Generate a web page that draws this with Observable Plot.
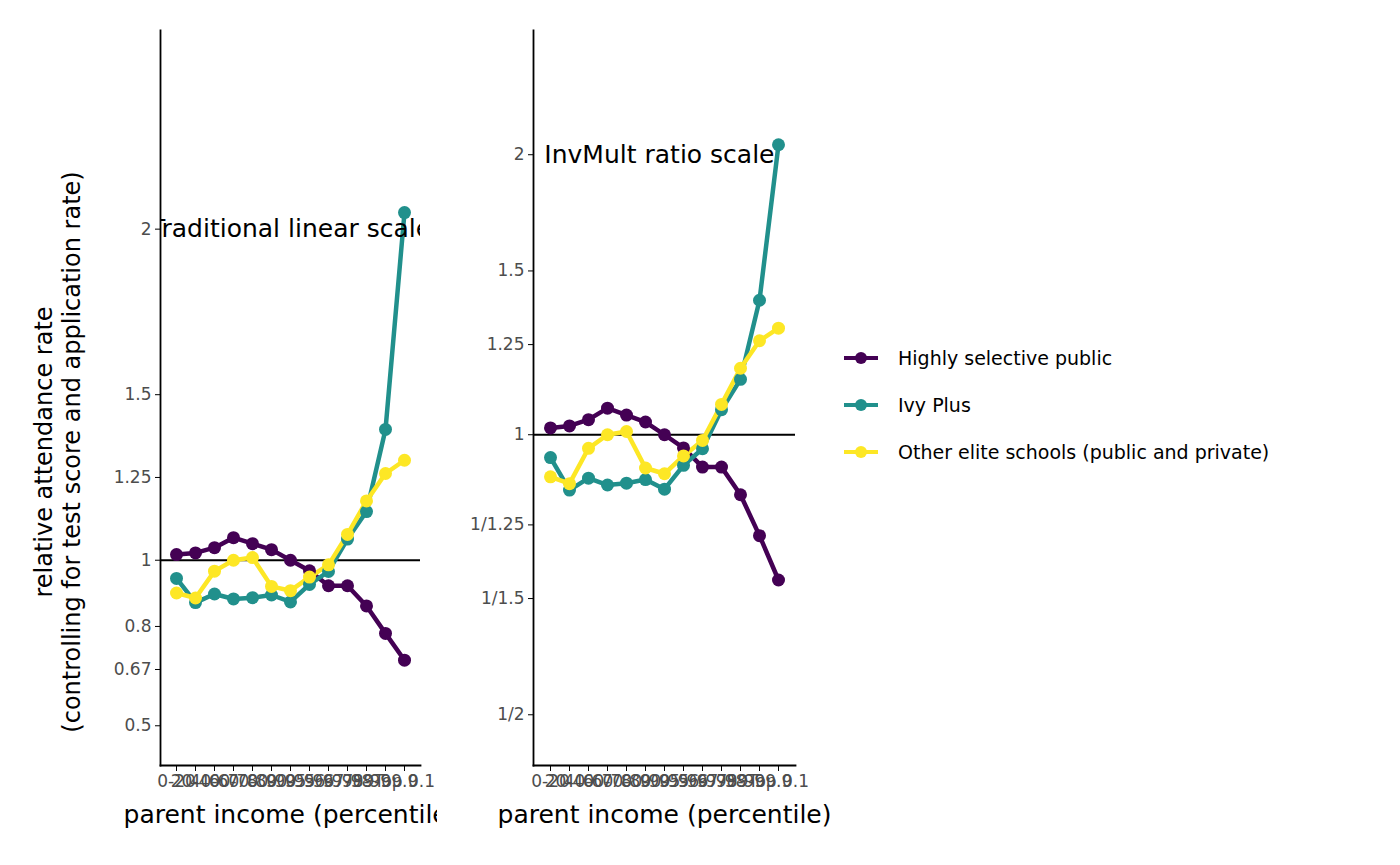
<!DOCTYPE html>
<html><head><meta charset="utf-8">
<script src="https://cdn.jsdelivr.net/npm/d3@7"></script>
<script src="https://cdn.jsdelivr.net/npm/@observablehq/plot@0.6"></script>
<style>
body{margin:0;background:#fff;font-family:"DejaVu Sans",sans-serif;}
#wrap{position:relative;width:1400px;height:865px;overflow:hidden}
.p{position:absolute;top:0}
#left{left:0;width:437px;height:865px;overflow:hidden}
#right{left:461px;width:939px;height:865px;overflow:hidden}
#legend{position:absolute;left:840px;top:334px;font-size:19px;color:#000}
.li{display:flex;align-items:center;height:47px}
</style></head><body>
<div id="wrap"><div id="left" class="p"></div><div id="right" class="p"></div><div id="legend"></div></div>
<script>
const bins = ["0-20","20-40","40-60","60-70","70-80","80-90","90-95","95-96","96-97","97-98","98-99","99-99.9","Top 0.1"];
const seriesNames = ["Highly selective public","Ivy Plus","Other elite schools (public and private)"];
const colors = ["#440154","#21908C","#FDE725"];
const publicVals = [1.017,1.022,1.038,1.068,1.050,1.032,1.0,0.968,0.923,0.923,0.862,0.779,0.698];
const ivyVals = [0.945,0.872,0.898,0.883,0.887,0.895,0.874,0.927,0.966,1.064,1.147,1.395,2.05];
const otherVals = [0.901,0.886,0.967,1.0,1.008,0.921,0.908,0.949,0.986,1.078,1.179,1.262,1.302];
const leftTicks = [0.5,0.67,0.8,1,1.25,1.5,2];
const rightTicks = [0.5,2/3,0.8,1,1.25,1.5,2];
const rightLabels = ["1/2","1/1.5","1/1.25","1","1.25","1.5","2"];

const data = [];
[publicVals,ivyVals,otherVals].forEach((vals,i)=>vals.forEach((v,j)=>data.push({bin:bins[j],v,s:seriesNames[i]})));

const tickStyle = {fontSize:17, fill:"#4d4d4d"};
function panel(opts){
  return Plot.plot({
    width:opts.width, height:865,
    marginLeft:opts.ml, marginRight:opts.mr, marginTop:30, marginBottom:100,
    style:{fontFamily:"DejaVu Sans",background:"transparent",overflow:"visible"},
    x:{type:"point", domain:bins, padding:0.6},
    y:{type:opts.type, domain:opts.domain},
    color:{domain:seriesNames, range:colors},
    marks:[
      Plot.ruleY([1],{stroke:"#000",strokeWidth:1.8}),
      Plot.line(data,{x:"bin",y:"v",z:"s",stroke:"s",strokeWidth:4.5}),
      Plot.dot(data,{x:"bin",y:"v",fill:"s",r:6.5}),
      Plot.text([{t:opts.title,x:opts.tx,y:2}],{x:"x",y:"y",text:"t",textAnchor:opts.anchor,dx:opts.dx,fontSize:25,fill:"#000",clip:true}),
      Plot.axisX({ticks:bins,tickSize:6,tickPadding:3,label:null,...tickStyle}),
      Plot.axisY({ticks:opts.ticks,tickFormat:opts.fmt,tickSize:5,tickPadding:4,label:null,...tickStyle}),
      Plot.frame({anchor:"left",stroke:"#000",strokeWidth:1.8}),
      Plot.frame({anchor:"bottom",stroke:"#000",strokeWidth:1.8}),
      Plot.text(["parent income (percentile)"],{frameAnchor:"bottom",dy:57,text:d=>d,fontSize:25,fill:"#000"})
    ]
  });
}
const L = panel({width:437,ml:160,mr:17,type:"linear",domain:[0.38,2.6],ticks:leftTicks,fmt:d=>String(d),
  title:"Traditional linear scale",tx:bins[6],anchor:"middle",dx:0});
document.getElementById("left").appendChild(L);
const yt = d3.select(L).append("text").attr("transform","translate(58,452) rotate(-90)")
  .attr("text-anchor","middle").style("font-size","24px").style("font-family","DejaVu Sans");
yt.append("tspan").attr("x",0).attr("dy","-0.25em").text("relative attendance rate");
yt.append("tspan").attr("x",0).attr("dy","1.15em").text("(controlling for test score and application rate)");

const R = panel({width:339,ml:72,mr:5,type:"log",domain:[0.441,2.72],ticks:rightTicks,
  fmt:d=>rightLabels[rightTicks.findIndex(t=>Math.abs(t-d)<1e-6)],
  title:"InvMult ratio scale",tx:bins[12],anchor:"end",dx:-4});
document.getElementById("right").appendChild(R);

const lg = d3.select("#legend");
seriesNames.forEach((n,i)=>{
  const it = lg.append("div").attr("class","li");
  const s = it.append("svg").attr("width",48).attr("height",20);
  s.append("line").attr("x1",4).attr("x2",38).attr("y1",10).attr("y2",10).attr("stroke",colors[i]).attr("stroke-width",4);
  s.append("circle").attr("cx",21).attr("cy",10).attr("r",6).attr("fill",colors[i]);
  it.append("span").style("margin-left","10px").text(n);
});
</script></body></html>
